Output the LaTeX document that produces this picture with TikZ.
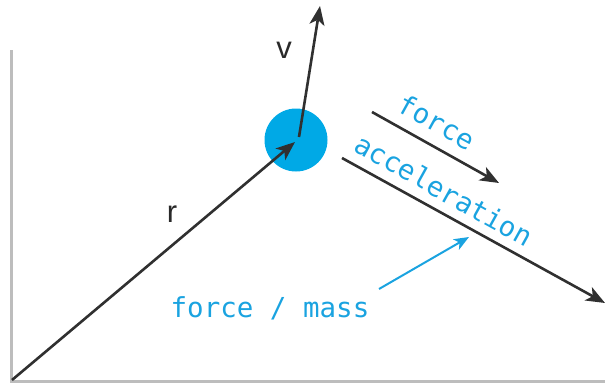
\documentclass[tikz,border=0pt]{standalone}
\usepackage{fontspec}
\setmainfont{Liberation Sans}
\newfontfamily\monofont{DejaVu Sans Mono}
\usetikzlibrary{arrows.meta}
\definecolor{ballblue}{HTML}{00A9E6}
\definecolor{labelblue}{HTML}{1AA3E0}
\definecolor{arrowgray}{HTML}{303030}
\definecolor{axisgray}{HTML}{BDBDBD}
\begin{document}
\begin{tikzpicture}[x=1pt,y=-1pt,
  vecarrow/.style={draw=arrowgray,line width=2.6pt,-{Stealth[length=19pt,width=15pt,inset=5pt]}},
  bluearrow/.style={draw=labelblue,line width=2pt,-{Stealth[length=15pt,width=12pt,inset=4pt]}},
  bluetext/.style={text=labelblue,font=\monofont\fontsize{27.5}{31}\selectfont,inner sep=0pt},
  vectext/.style={text=arrowgray!85!black,font=\fontsize{31}{34}\selectfont,inner sep=0pt},
  axis/.style={draw=axisgray,line width=3pt}]
\useasboundingbox (0,0) rectangle (605,383);
% axes
\coordinate (axtop) at (11,50);
\coordinate (O) at (11,381);
\coordinate (axright) at (605,381);
\draw[axis] (axtop) -- (O) -- (axright);
% ball
\node[circle,fill=ballblue,minimum size=63pt,inner sep=0pt] (ball) at (296,140) {};
% r vector
\coordinate (rstart) at (12,380);
\coordinate (rtip) at (295,142);
\draw[vecarrow] (rstart) -- (rtip);
\node[vectext] (rlab) at (172,214) {r};
% v vector
\coordinate (vstart) at (299,137);
\coordinate (vtip) at (320,6);
\draw[vecarrow] (vstart) -- (vtip);
\node[vectext] (vlab) at (284,50) {v};
% force vector
\coordinate (fstart) at (372,112);
\coordinate (fend) at (499,183);
\draw[vecarrow] (fstart) -- (fend);
\node[bluetext,rotate=-29] (flab) at (437,122) {force};
% acceleration vector
\coordinate (astart) at (342,158);
\coordinate (aend) at (605,303);
\draw[vecarrow] (astart) -- (aend);
\node[bluetext,rotate=-29] (alab) at (444,190) {acceleration};
% force / mass
\node[bluetext] (fm) at (270,308) {force / mass};
\coordinate (fmarrow) at (379,289);
\coordinate (fmtip) at (469,237);
\draw[bluearrow] (fmarrow) -- (fmtip);
\end{tikzpicture}
\end{document}
